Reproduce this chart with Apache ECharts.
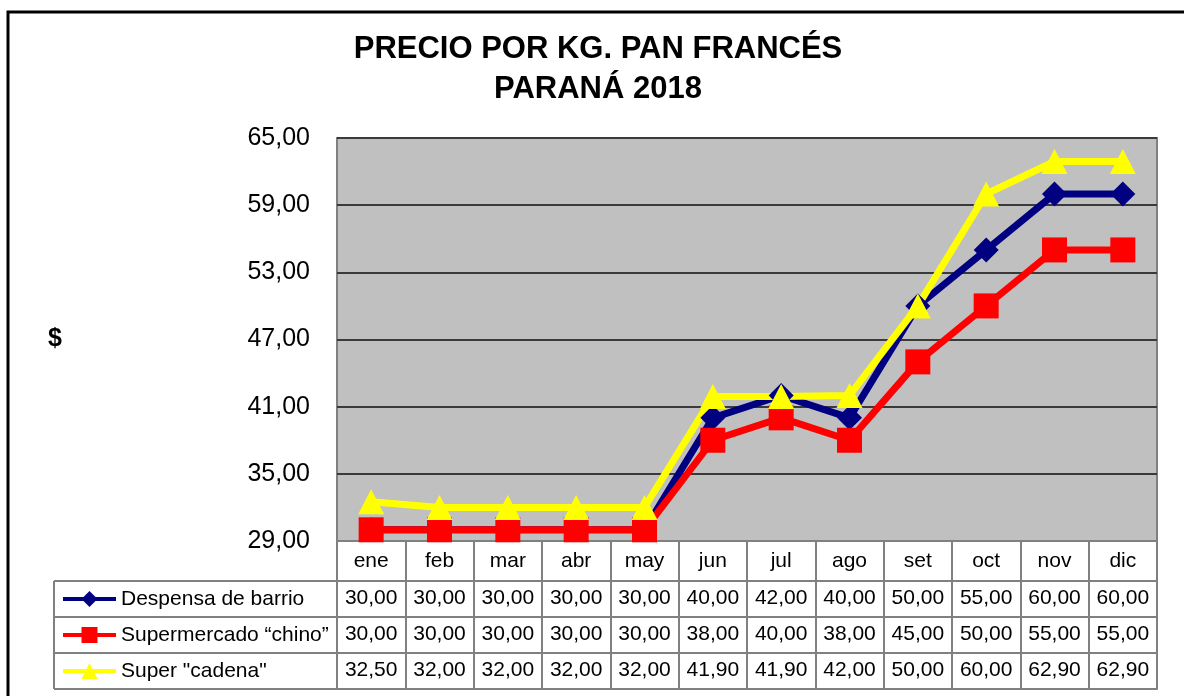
<!DOCTYPE html>
<html>
<head>
<meta charset="utf-8">
<script src="https://cdn.jsdelivr.net/npm/echarts@6/dist/echarts.min.js"></script>
<style>
    html, body { margin: 0; padding: 0; background: #fff; overflow: hidden; }
    #chart { width: 1184px; height: 696px; }
</style>
</head>
<body>
<div id="chart"></div>
<script>
var meses = ["ene", "feb", "mar", "abr", "may", "jun", "jul", "ago", "set", "oct", "nov", "dic"];
var despensa = [30, 30, 30, 30, 30, 40, 42, 40, 50, 55, 60, 60];
var chino = [30, 30, 30, 30, 30, 38, 40, 38, 45, 50, 55, 55];
var cadena = [32.5, 32, 32, 32, 32, 41.9, 41.9, 42, 50, 60, 62.9, 62.9];
var nombres = ["Despensa de barrio", "Supermercado “chino”", 'Super "cadena"'];
var yMin = 29, yMax = 65, yStep = 6;

var FONT = "'Liberation Sans', Arial, sans-serif";
var GRID_L = 337, GRID_R = 1157, GRID_T = 138, GRID_B = 541;
var ROW_H = 36, HEAD_H = 40, LEG_L = 54;

function fmt(v) {
    return v.toFixed(2).replace(".", ",");
}
// el eje arranca en 0 (múltiplo del intervalo) y se etiqueta sumando yMin
function shift(arr) {
    return arr.map(function (v) { return +(v - yMin).toFixed(2); });
}

var chart = echarts.init(document.getElementById("chart"));

var filas = [despensa, chino, cadena];
var xAxes = [{
    type: "category",
    data: meses,
    position: "bottom",
    boundaryGap: true,
    axisLine: { show: true, lineStyle: { color: "#808080", width: 2 } },
    axisTick: {
        show: true,
        interval: 0,
        length: HEAD_H + ROW_H * 3,
        lineStyle: { color: "#808080", width: 2 },
    },
    axisLabel: { interval: 0, margin: 10, fontSize: 21, color: "#000", fontFamily: FONT },
}];
filas.forEach(function (serie, i) {
    xAxes.push({
        type: "category",
        data: serie.map(fmt),
        position: "bottom",
        offset: HEAD_H + ROW_H * i,
        axisLine: { show: true, lineStyle: { color: "#808080", width: 2 } },
        axisTick: { show: false },
        axisLabel: { interval: 0, margin: 7, fontSize: 21, color: "#000", fontFamily: FONT },
    });
});
xAxes.push({
    type: "category",
    data: meses,
    position: "bottom",
    offset: HEAD_H + ROW_H * 3,
    axisLine: { show: true, lineStyle: { color: "#808080", width: 2 } },
    axisTick: { show: false },
    axisLabel: { show: false },
});

// bordes de la parte de leyenda de la tabla
var tablaGraf = [];
for (var r = 0; r <= 3; r++) {
    var y = GRID_B + HEAD_H + ROW_H * r;
    tablaGraf.push({
        type: "line",
        shape: { x1: LEG_L, y1: y, x2: GRID_L, y2: y },
        style: { stroke: "#808080", lineWidth: 2 },
    });
}
tablaGraf.push({
    type: "line",
    shape: { x1: LEG_L, y1: GRID_B + HEAD_H, x2: LEG_L, y2: GRID_B + HEAD_H + ROW_H * 3 },
    style: { stroke: "#808080", lineWidth: 2 },
});
// marco exterior (solo arriba e izquierda dentro de la imagen)
tablaGraf.push({
    type: "polyline",
    shape: { points: [[8, 800], [8, 12], [1300, 12]] },
    style: { fill: null, stroke: "#000", lineWidth: 3 },
});

chart.setOption({
    animation: false,
    backgroundColor: "#fff",
    textStyle: { fontFamily: FONT },
    title: {
        text: "PRECIO POR KG. PAN FRANCÉS\nPARANÁ 2018",
        left: 598,
        top: 29,
        padding: 0,
        textAlign: "center",
        textStyle: { fontSize: 31, fontWeight: "bold", lineHeight: 40, color: "#000", fontFamily: FONT },
    },
    legend: {
        orient: "vertical",
        left: 61,
        top: GRID_B + HEAD_H + 4,
        padding: 0,
        itemWidth: 53,
        itemHeight: 20,
        itemGap: 8,
        selectedMode: false,
        lineStyle: { width: 4 },
        textStyle: { fontSize: 21, lineHeight: 28, color: "#000", fontFamily: FONT },
        data: nombres,
    },
    grid: {
        left: GRID_L,
        right: 1184 - GRID_R,
        top: GRID_T,
        bottom: 696 - GRID_B,
        show: true,
        backgroundColor: "#c0c0c0",
        borderColor: "#808080",
        borderWidth: 2,
    },
    xAxis: xAxes,
    yAxis: {
        type: "value",
        min: 0,
        max: yMax - yMin,
        interval: yStep,
        name: "$",
        nameLocation: "middle",
        nameRotate: 0,
        nameGap: 275,
        nameTextStyle: { fontSize: 25, fontWeight: "bold", color: "#000", fontFamily: FONT },
        axisLine: { show: false },
        axisTick: { show: false },
        axisLabel: {
            margin: 27,
            fontSize: 25,
            color: "#000",
            fontFamily: FONT,
            formatter: function (v) { return fmt(v + yMin); },
        },
        splitLine: { show: true, lineStyle: { color: "#3a3a3a", width: 2 } },
    },
    series: [
        {
            name: nombres[0],
            type: "line",
            data: shift(despensa),
            symbol: "diamond",
            symbolSize: 25,
            color: "#000080",
            lineStyle: { width: 7, color: "#000080" },
            itemStyle: { color: "#000080" },
        },
        {
            name: nombres[1],
            type: "line",
            data: shift(chino),
            symbol: "rect",
            symbolSize: 25,
            color: "#ff0000",
            lineStyle: { width: 7, color: "#ff0000" },
            itemStyle: { color: "#ff0000" },
        },
        {
            name: nombres[2],
            type: "line",
            data: shift(cadena),
            symbol: "triangle",
            symbolSize: [26, 25],
            color: "#ffff00",
            lineStyle: { width: 7, color: "#ffff00" },
            itemStyle: { color: "#ffff00" },
        },
    ],
    graphic: tablaGraf,
});
</script>
</body>
</html>
